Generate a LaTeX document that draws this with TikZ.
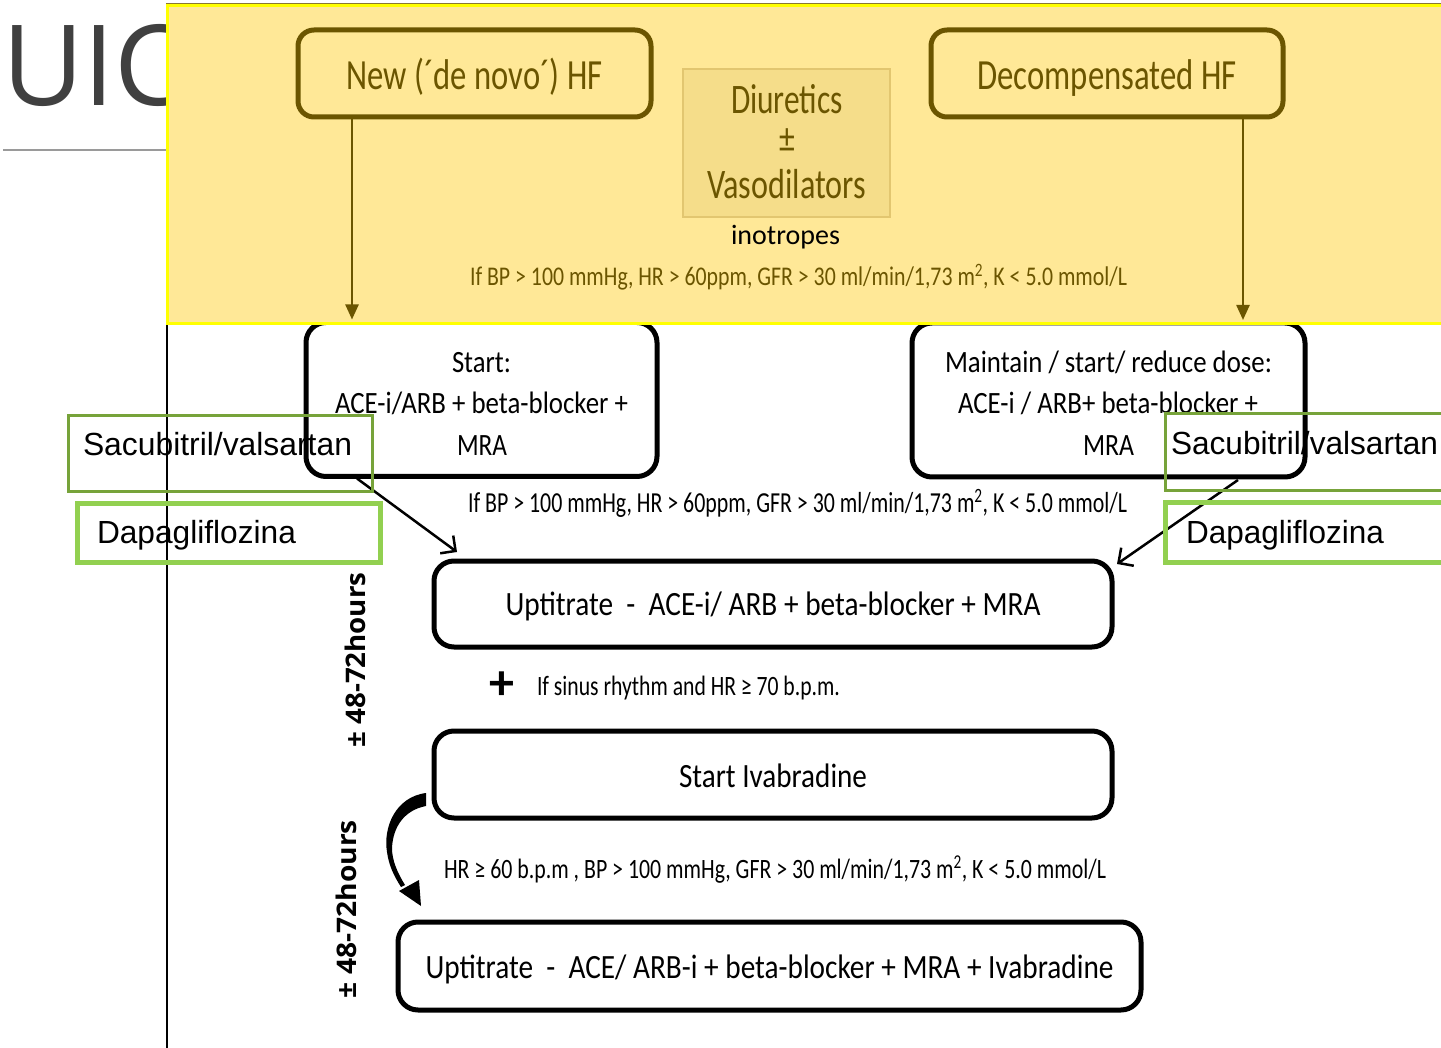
\documentclass[tikz,border=0pt]{standalone}
\usepackage{fontspec}
\usepackage{graphicx}
\setmainfont{Carlito}
\newfontfamily\arialf{Liberation Sans}
\newfontfamily\opensans{Open Sans}
\usetikzlibrary{arrows.meta,calc}

\definecolor{band}{HTML}{FFE897}
\definecolor{bandedge}{HTML}{FFFF00}
\definecolor{olive}{HTML}{6B5500}
\definecolor{diufill}{HTML}{F5DD8A}
\definecolor{diuedge}{HTML}{E2C670}
\definecolor{sacgreen}{HTML}{77A33A}
\definecolor{dapgreen}{HTML}{92D050}
\definecolor{titlegray}{HTML}{404040}
\definecolor{rulegray}{HTML}{9A9A9A}

% set a text at a given width (condensed or expanded), keeping its height
\newsavebox\fitbox
\newcommand\fitw[2]{\sbox\fitbox{#2}\edef\fitnat{\the\wd\fitbox}%
  \pgfmathsetmacro\fitratio{#1/\fitnat}\scalebox{\fitratio}[1]{\usebox\fitbox}}

\tikzset{
  every node/.style={inner sep=0pt, outer sep=0pt},
  hfbox/.style={draw=olive, line width=5pt, rounded corners=16pt, fill=band,
    text=olive, minimum width=353pt, minimum height=87pt,
    font=\fontsize{43}{50}\selectfont, text height=33pt, text depth=0pt},
  rbox/.style={draw=black, line width=5pt, rounded corners=20pt, fill=white},
  stepline/.style={draw=black, line width=5pt, rounded corners=20pt, fill=white,
    font=\fontsize{34}{40}\selectfont, text depth=0pt},
  boxtext/.style={anchor=base, font=\fontsize{31}{36}\selectfont},
  condtext/.style={anchor=base, font=\fontsize{28}{32}\selectfont},
  sacbox/.style={draw=sacgreen, line width=3pt},
  dapbox/.style={draw=dapgreen, line width=5pt},
  greentext/.style={anchor=base west, font=\arialf\fontsize{32}{36}\selectfont},
  hours/.style={rotate=90, font=\opensans\bfseries\fontsize{27}{30}\selectfont},
  flowarrow/.style={draw=olive, line width=2.4pt, -{Triangle[length=15pt,width=13pt]}},
  diagarrow/.style={draw=black, line width=2.5pt, -{Straight Barb[length=11pt,width=22pt]}},
}

\begin{document}
\begin{tikzpicture}[x=1pt,y=-1pt]
\useasboundingbox (0,0) rectangle (1441,1048);
\fill[white] (0,0) rectangle (1441,1048);

% slide title and rule behind the panel
\node[anchor=base west, text=titlegray, font=\opensans\fontsize{112}{120}\selectfont] (title) at (2,106) {UIC};
\draw[rulegray, line width=1.5pt] (3,150) -- (166,150);

% first-line treatment boxes (their tops tuck under the panel)
\node[rbox, minimum width=351pt, minimum height=154pt] (start) at (481.5,399.5) {};
\node[rbox, minimum width=393pt, minimum height=154pt] (maint) at (1108.5,400) {};

% yellow acute-phase panel
\path[fill=band, draw=bandedge, line width=3pt] (167.5,5.5) rectangle (1448,323.5);
\draw[olive!80, line width=1pt] (166,4) -- (1448,4);

% left margin rule
\draw[black, line width=1.3pt] (167,325) -- (167,1048);

% presentation boxes
\node[hfbox] (newhf) at (474.5,73.5) {\fitw{256}{New (´de novo´) HF}};
\node[hfbox, minimum width=352pt] (decomp) at (1107,73.5) {\fitw{259}{Decompensated HF}};

% acute therapy
\node[draw=diuedge, fill=diufill, line width=2pt, minimum width=207pt, minimum height=148pt] (diu) at (786.5,143) {};
\begin{scope}[every node/.append style={anchor=base, text=olive, font=\fontsize{42}{46}\selectfont}]
  \node (diu1) at (787,114) {\fitw{112}{Diuretics}};
  \node (diu2) at (787,153) {\scalebox{0.75}[1]{±}};
  \node (diu3) at (786.5,199) {\fitw{159}{Vasodilators}};
\end{scope}
\node[anchor=base, font=\fontsize{28}{30}\selectfont] (ino) at (785.5,245) {\fitw{109}{inotropes}};
\node[condtext, text=olive, font=\fontsize{27}{30}\selectfont] (cond1) at (798.5,286)
  {\fitw{657}{If BP > 100 mmHg, HR > 60ppm, GFR > 30 ml/min/1,73 m\textsuperscript{2}, K < 5.0 mmol/L}};

% arrows from the presentations
\coordinate (lx) at (352,0);
\coordinate (rx) at (1243,0);
\draw[flowarrow] (newhf.south -| lx) -- ($(start.north -| lx)+(0,-3)$);
\draw[flowarrow] (decomp.south -| rx) -- ($(maint.north -| rx)+(0,-3)$);

% first-line box texts
\node[boxtext] (st1) at (481.5,373) {\fitw{59}{Start:}};
\node[boxtext] (st2) at (481.5,414) {\fitw{293}{ACE-i/ARB + beta-blocker +}};
\node[boxtext] (st3) at (482,456) {\fitw{50}{MRA}};
\node[boxtext] (mt1) at (1108.5,373) {\fitw{327}{Maintain / start/ reduce dose:}};
\node[boxtext] (mt2) at (1108,414) {\fitw{300}{ACE-i / ARB+ beta-blocker +}};
\node[boxtext] (mt3) at (1108.5,456) {\fitw{51}{MRA}};

% condition line
\node[condtext, font=\fontsize{29}{32}\selectfont] (cond2) at (797.5,512)
  {\fitw{659}{If BP > 100 mmHg, HR > 60ppm, GFR > 30 ml/min/1,73 m\textsuperscript{2}, K < 5.0 mmol/L}};

% titration steps
\node[stepline, minimum width=678pt, minimum height=86pt, text height=22pt] (upt) at (773,604)
  {\fitw{535}{Uptitrate\ \ -\ \ ACE-i/ ARB + beta-blocker + MRA}};
\node[anchor=center, font=\bfseries\fontsize{50}{50}\selectfont] (plus) at (502,686) {+};
\node[condtext, anchor=base west] (sinus) at (537,695) {\fitw{303}{If sinus rhythm and HR ≥ 70 b.p.m.}};
\node[stepline, minimum width=678pt, minimum height=87pt, text height=25pt] (ivab) at (773,774.5)
  {\fitw{188}{Start Ivabradine}};
\node[condtext] (cond3) at (775,878)
  {\fitw{662}{HR ≥ 60 b.p.m , BP > 100 mmHg, GFR > 30 ml/min/1,73 m\textsuperscript{2}, K < 5.0 mmol/L}};
\node[stepline, minimum width=743pt, minimum height=88pt, text height=24pt] (final) at (769.5,966)
  {\fitw{688}{Uptitrate\ \ -\ \ ACE/ ARB-i + beta-blocker + MRA + Ivabradine}};

% diagonal arrows into the first titration
\draw[diagarrow] ($(start.south west)+(51,2)$) -- ($(upt.north west)+(23,-9)$);
\draw[diagarrow] ($(maint.south east)+(-67,3)$) -- ($(upt.north east)+(5,3)$);

% time-span labels
\node[hours] (span1) at (355,660) {\fitw{175}{± 48-72hours}};
\node[hours] (span2) at (346,909) {\fitw{178}{± 48-72hours}};

% curved arrow between the Ivabradine steps
\fill[black] (426,793) .. controls (395,797) and (383,828) .. (387,852)
  .. controls (389,866) and (394,876) .. (401,887) -- (405,885)
  .. controls (397,872) and (392,860) .. (392,848)
  .. controls (393,826) and (405,810) .. (426,806) -- cycle;
\fill[black] (421,906) -- (399,891) -- (419,880) -- cycle;

% newer drug add-ons
\node[sacbox, minimum width=304pt, minimum height=75pt] (sacl) at (220,453.5) {};
\node[greentext] (sacltext) at (83,456) {\fitw{269}{Sacubitril/valsartan}};
\node[dapbox, minimum width=303pt, minimum height=59pt] (dapl) at (228.5,532.5) {};
\node[greentext] (dapltext) at (97,543) {\fitw{199}{Dapagliflozina}};
\node[sacbox, minimum width=290pt, minimum height=76pt] (sacr) at (1310,452) {};
\node[greentext] (sacrtext) at (1171,455) {\fitw{267}{Sacubitril/valsartan}};
\node[dapbox, minimum width=290pt, minimum height=60pt] (dapr) at (1310,532) {};
\node[greentext] (daprtext) at (1186,543) {\fitw{198}{Dapagliflozina}};
\end{tikzpicture}
\end{document}
